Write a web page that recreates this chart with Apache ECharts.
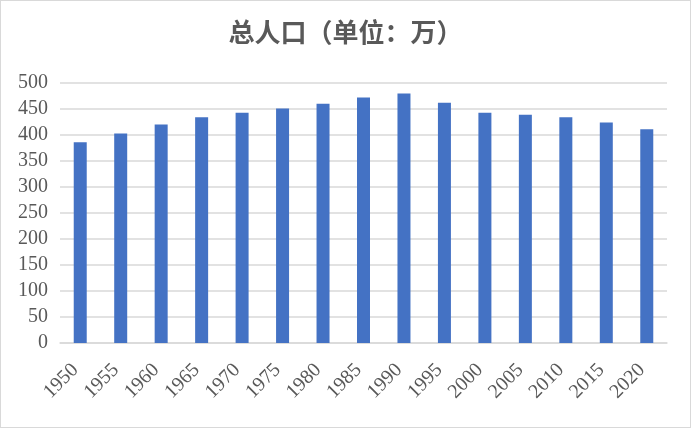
<!DOCTYPE html>
<html><head><meta charset="utf-8">
<script src="https://cdn.jsdelivr.net/npm/echarts@6/dist/echarts.min.js"></script>
<style>html,body{margin:0;padding:0;background:#fff}#c{width:691px;height:428px;box-sizing:border-box;border:1px solid #d9d9d9}</style>
</head><body><div id="c"></div>
<script>
var years = ['1950','1955','1960','1965','1970','1975','1980','1985','1990','1995','2000','2005','2010','2015','2020'];
var population = [386,403,420,434,443,451,460,472,480,462,443,439,434,424,411];
var chart = echarts.init(document.getElementById('c'));
chart.setOption({
  animation:false,
  title:{text:'总人口（单位：万）',left:'center',top:12,textStyle:{fontFamily:'"Noto Sans CJK SC"',fontWeight:'bold',fontSize:26,lineHeight:29,color:'#595959'}},
  grid:{left:59,right:23,top:82,bottom:84},
  xAxis:{type:'category',data:years,axisTick:{show:false},
    axisLine:{lineStyle:{color:'#d9d9d9',width:1.5}},
    axisLabel:{rotate:45,interval:0,margin:19,padding:[0,7,0,0],fontFamily:'"Liberation Serif"',fontSize:20,color:'#595959'}},
  yAxis:{type:'value',min:0,max:500,interval:50,
    axisLine:{show:false},axisTick:{show:false},
    splitLine:{lineStyle:{color:'#d9d9d9',width:1.5}},
    axisLabel:{margin:12,fontFamily:'"Liberation Serif"',fontSize:20,color:'#595959'}},
  series:[{type:'bar',data:population,barWidth:13,itemStyle:{color:'#4472c4'}}]
});
</script></body></html>
